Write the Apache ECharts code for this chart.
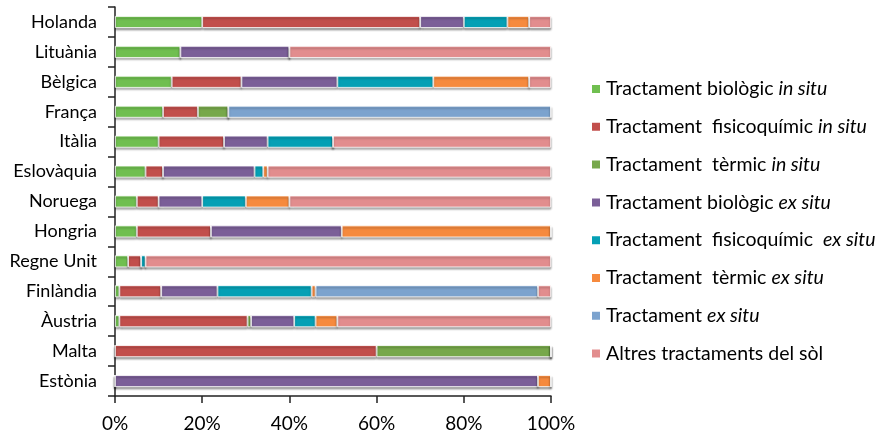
<!DOCTYPE html>
<html><head><meta charset="utf-8">
<script src="https://cdn.jsdelivr.net/npm/echarts@6/dist/echarts.min.js"></script>
<style>html,body{margin:0;padding:0;background:#fff}#c{width:879px;height:437px}</style>
</head><body><div id="c"></div>
<script>
const categories = ['Holanda','Lituània','Bèlgica','França','Itàlia','Eslovàquia','Noruega','Hongria','Regne Unit','Finlàndia','Àustria','Malta','Estònia'];
const seriesNames = ['Tractament biològic in situ','Tractament  fisicoquímic in situ','Tractament  tèrmic in situ','Tractament biològic ex situ','Tractament  fisicoquímic  ex situ','Tractament  tèrmic ex situ','Tractament ex situ','Altres tractaments del sòl'];
const bioIn    = [20, 15, 13, 11, 10, 7, 5, 5, 3, 1, 1, 0, 0];
const fisIn    = [50, 0, 16, 8, 15, 4, 5, 17, 3, 9.6, 29.4, 60, 0];
const terIn    = [0, 0, 0, 7, 0, 0, 0, 0, 0, 0, 0.8, 40, 0];
const bioEx    = [10, 25, 22, 0, 10, 21, 10, 30, 0, 12.9, 9.9, 0, 97];
const fisEx    = [10, 0, 22, 0, 15, 2, 10, 0, 1, 21.6, 4.9, 0, 0];
const terEx    = [5, 0, 22, 0, 0, 1, 10, 48, 0, 0.9, 5, 0, 3];
const exSitu   = [0, 0, 0, 74, 0, 0, 0, 0, 0, 51, 0, 0, 0];
const altres   = [5, 60, 5, 0, 50, 65, 60, 0, 93, 3, 49, 0, 0];
const xTicks = [0, 20, 40, 60, 80, 100];

const values = [bioIn, fisIn, terIn, bioEx, fisEx, terEx, exSitu, altres];
const colors = ['#70BF50','#C24F4C','#77A84B','#7B5F98','#05A0B5','#F68A3E','#7CA3CE','#E28D8E'];
const legendRich = {
  'Tractament biològic in situ':'Tractament biològic {i|in situ}',
  'Tractament  fisicoquímic in situ':'Tractament  fisicoquímic {i|in situ}',
  'Tractament  tèrmic in situ':'Tractament  tèrmic {i|in situ}',
  'Tractament biològic ex situ':'Tractament biològic {i|ex situ}',
  'Tractament  fisicoquímic  ex situ':'Tractament  fisicoquímic  {i|ex situ}',
  'Tractament  tèrmic ex situ':'Tractament  tèrmic {i|ex situ}',
  'Tractament ex situ':'Tractament {i|ex situ}',
  'Altres tractaments del sòl':'Altres tractaments del sòl'
};
const FONT = 'Lato';
const chart = echarts.init(document.getElementById('c'), null, {renderer:'canvas'});
chart.setOption({
  animation:false,
  backgroundColor:'#fff',
  grid:{left:115, right:328, top:7, bottom:41, containLabel:false},
  legend:{
    orient:'vertical', left:585, top:73, itemWidth:10, itemHeight:10, itemGap:15.8,
    icon:'rect',
    data:seriesNames,
    formatter:n=>legendRich[n],
    textStyle:{fontFamily:FONT, fontSize:19.5, lineHeight:22, color:'#000', rich:{i:{fontStyle:'italic', fontFamily:FONT, fontSize:19.5, lineHeight:22, color:'#000'}}}
  },
  xAxis:{
    type:'value', min:0, max:100, interval:20,
    axisLine:{show:true, lineStyle:{color:'#222', width:1.5}},
    axisTick:{show:true, length:7, lineStyle:{color:'#222', width:1.5}},
    splitLine:{show:false},
    axisLabel:{formatter:v=>xTicks.includes(v)?v+'%':'', fontFamily:FONT, fontSize:19, color:'#000', margin:18}
  },
  yAxis:{
    type:'category', data:categories, inverse:true,
    axisLine:{show:true, lineStyle:{color:'#222', width:1.5}},
    axisTick:{show:true, length:7, lineStyle:{color:'#222', width:1.5}},
    axisLabel:{fontFamily:FONT, fontSize:18, color:'#000', margin:18}
  },
  series: values.map((v,i)=>({
    name:seriesNames[i], type:'bar', stack:'t', data:v, barWidth:'40%',
    itemStyle:{color:colors[i], borderColor:'#fff', borderWidth:0.8,
      shadowColor:'rgba(0,0,0,0.35)', shadowBlur:2, shadowOffsetY:2},
    emphasis:{disabled:true}
  }))
});
</script></body></html>
